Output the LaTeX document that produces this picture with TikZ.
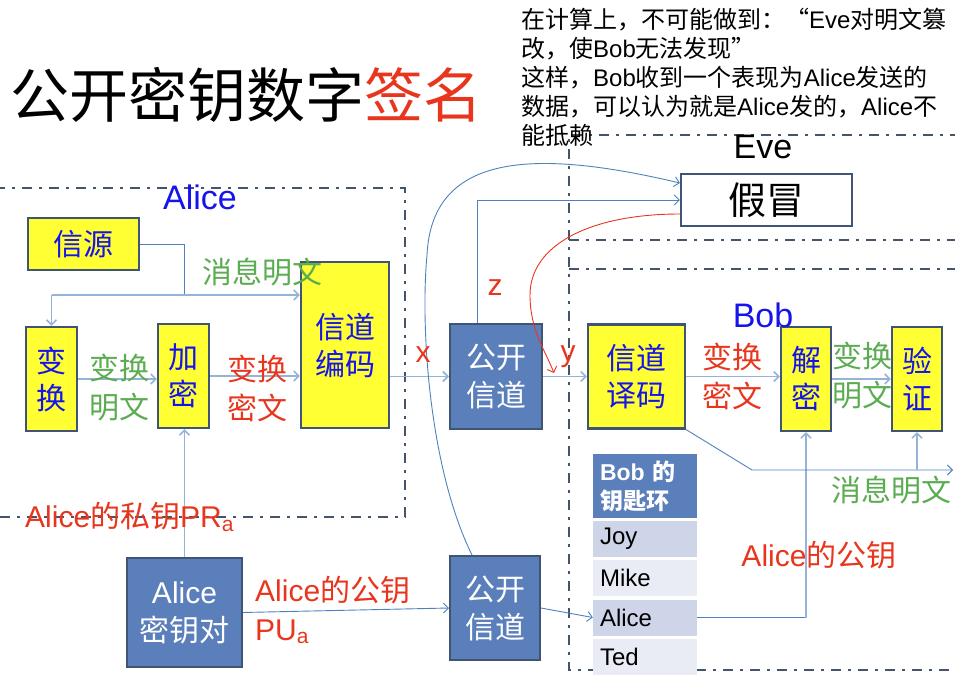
\documentclass[tikz,border=0pt]{standalone}
\usepackage{fontspec}
\setmainfont{Noto Sans CJK SC}
\newfontfamily\en{Liberation Sans}
\usetikzlibrary{arrows.meta}

\definecolor{boxyellow}{RGB}{255,255,51}
\definecolor{boxedge}{RGB}{64,84,118}
\definecolor{chanblue}{RGB}{91,127,186}
\definecolor{txtblue}{RGB}{20,20,235}
\definecolor{txtred}{RGB}{232,54,30}
\definecolor{txtgreen}{RGB}{92,172,82}
\definecolor{linkblue}{RGB}{79,129,189}
\definecolor{flowblue}{RGB}{149,179,215}
\definecolor{zoneline}{RGB}{68,84,106}
\definecolor{rowdark}{RGB}{207,213,232}
\definecolor{rowlight}{RGB}{233,236,244}

\tikzset{
  proc/.style={draw=boxedge, line width=2.2pt, fill=boxyellow, text=txtblue,
    align=center, inner sep=0pt, font=\fontsize{30}{37}\selectfont},
  chan/.style={draw=boxedge, line width=2pt, fill=chanblue, text=white,
    align=center, inner sep=0pt, font=\fontsize{30}{38}\selectfont},
  fakebox/.style={draw=boxedge, line width=2.2pt, fill=white,
    minimum width=171pt, minimum height=52pt, inner sep=0pt,
    font=\fontsize{38}{44}\selectfont},
  redlbl/.style={text=txtred, align=center, inner sep=0pt,
    font=\fontsize{30}{39}\selectfont},
  greenlbl/.style={text=txtgreen, align=center, inner sep=0pt,
    font=\fontsize{30}{39}\selectfont},
  zonelbl/.style={inner sep=0pt, font=\en\fontsize{34}{40}\selectfont},
  zone/.style={draw=zoneline, line width=2.8pt,
    dash pattern=on 10pt off 7pt on 3pt off 7pt},
  link/.style={draw=linkblue, line width=0.9pt},
  flow/.style={draw=flowblue, line width=1.6pt},
  redlink/.style={draw=txtred, line width=0.9pt},
  ringhead/.style={fill=chanblue, text=white, minimum width=104pt,
    minimum height=64pt, text width=90pt, inner xsep=7pt, align=left,
    font=\bfseries\fontsize{23}{29}\selectfont},
  ringrow/.style={minimum width=104pt, minimum height=36pt, text width=90pt,
    inner xsep=7pt, align=left, font=\en\fontsize{24}{28}\selectfont},
  >={Straight Barb[length=5pt,width=10pt]}
}

\begin{document}
\begin{tikzpicture}[x=1pt,y=-1pt]
  \useasboundingbox (0,0) rectangle (955,679);
  \clip (0,0) rectangle (955,679);

  %% zones
  \draw[zone] (-5,188) -- (405,188) -- (405,517) -- (-5,517);
  \draw[zone] (960,135) -- (569,135) -- (569,670) -- (960,670);
  \draw[zone] (569,240) -- (960,240);
  \draw[zone] (569,269) -- (960,269);

  %% Alice
  \node[proc, minimum width=111pt, minimum height=52pt] (src) at (83.5,244) {信源};
  \node[proc, minimum width=51pt, minimum height=104pt] (trans) at (51.5,379) {变\\换};
  \node[proc, minimum width=51pt, minimum height=104pt] (enc) at (183.5,376) {加\\密};
  \node[proc, minimum width=88pt, minimum height=166pt] (code) at (345,345) {信道\\编码};
  \node[chan, minimum width=115pt, minimum height=109pt] (keys) at (184.5,612.5) {{\en Alice}\\密钥对};

  %% channels
  \node[chan, minimum width=92pt, minimum height=105pt] (pub1) at (496,376.5) {公开\\信道};
  \node[chan, minimum width=90pt, minimum height=104pt] (pub2) at (495,608) {公开\\信道};

  %% Eve
  \node[fakebox] (fake) at (766.5,200) {假冒};

  %% Bob
  \node[proc, minimum width=97pt, minimum height=104pt] (decode) at (636.5,376.5) {信道\\译码};
  \node[proc, minimum width=50pt, minimum height=104pt] (dec) at (806,379) {解\\密};
  \node[proc, minimum width=50pt, minimum height=104pt] (ver) at (917,379) {验\\证};

  %% key ring
  \node[ringhead] (ring) at (645,486) {{\en Bob} 的\\钥匙环};
  \node[ringrow, fill=rowdark] (joy) at (645,539) {Joy};
  \node[ringrow, fill=rowlight] (mike) at (645,578) {Mike};
  \node[ringrow, fill=rowdark] (alice) at (645,617.5) {Alice};
  \node[ringrow, fill=rowlight] (ted) at (645,657) {Ted};

  \coordinate (split) at (184,295);
  \coordinate (yhit) at (554,373);
  \coordinate (knee) at (752,470);
  \coordinate (msgout) at (953,470);

  %% Alice side
  \draw[link] (src.east) -| (split);
  \draw[flow,->] (trans.north |- split) -- (split -| code.west);
  \draw[flow,->] (trans.north |- split) -- (trans.north);
  \draw[flow,->] (trans) -- (trans -| enc.west);
  \draw[flow,->] (enc) -- (enc -| code.west);
  \draw[flow,->] (keys.north) -- (keys.north |- enc.south);
  \draw[flow,->] (code.east |- pub1) -- (pub1.west);

  %% public key
  \draw[link,->] (keys.east) -- (pub2.west);
  \draw[link,->] (pub2.east) -- (alice.west);
  \draw[link] (alice.east) -- (alice.east -| dec.south);
  \draw[flow,->] (alice.east -| dec.south) -- (dec.south);

  %% Eve
  \draw[link,->] ([xshift=-23pt]pub2.north) .. controls (430,470) and (420,330) .. (427,255)
    .. controls (432,150) and (540,150) .. ([yshift=17pt]fake.west);
  \draw[link,->] ([xshift=-19pt]pub1.north) |- (fake.west);
  \draw[redlink,->] ([yshift=-14pt]fake.west) .. controls (590,214) and (530,245) .. (530,295)
    .. controls (530,330) and (545,350) .. (yhit);

  %% Bob side
  \draw[flow,->] (pub1.east) -- (decode.west);
  \draw[flow,->] (decode) -- (decode -| dec.west);
  \draw[flow,->] (dec) -- (ver);
  \draw[link,->] (decode.south east) -- (knee) -- (msgout);
  \draw[flow,->] (ver.south |- knee) -- (ver.south);

  %% labels
  \node[anchor=west, inner sep=0pt, font=\fontsize{59}{64}\selectfont] (title) at (10,95)
    {公开密钥数字\textcolor{txtred}{签名}};
  \node[anchor=north west, inner sep=0pt, align=left, font=\fontsize{24}{29}\selectfont] (note) at (521,8)
    {在计算上，不可能做到：“{\en Eve}对明文篡\\改，使{\en Bob}无法发现”\\这样，{\en Bob}收到一个表现为{\en Alice}发送的\\数据，可以认为就是{\en Alice}发的，{\en Alice}不\\能抵赖};
  \node[zonelbl, text=txtblue] (alicelbl) at (200,197) {Alice};
  \node[zonelbl, text=txtblue] (boblbl) at (763,315) {Bob};
  \node[zonelbl] (evelbl) at (763,147) {Eve};

  \node[greenlbl] (msg1) at (262,272) {消息明文};
  \node[greenlbl] (plain1) at (119,388) {变换\\明文};
  \node[redlbl] (ciph1) at (257,388) {变换\\密文};
  \node[redlbl] (xlbl) at (423,355) {\en x};
  \node[redlbl] (zlbl) at (495,288) {\en z};
  \node[redlbl] (ylbl) at (568,357) {\en y};
  \node[redlbl] (ciph2) at (732,376) {变换\\密文};
  \node[greenlbl] (plain2) at (862,376) {变换\\明文};
  \node[greenlbl] (msg2) at (891,490) {消息明文};
  \node[redlbl, anchor=west] (prvkey) at (25,517) {{\en Alice}的私钥{\en PR\textsubscript{a}}};
  \node[redlbl, anchor=west, align=left] (pubkey) at (255,610) {{\en Alice}的公钥\\{\en PU\textsubscript{a}}};
  \node[redlbl] (pubkey2) at (819,555) {{\en Alice}的公钥};
\end{tikzpicture}
\end{document}
